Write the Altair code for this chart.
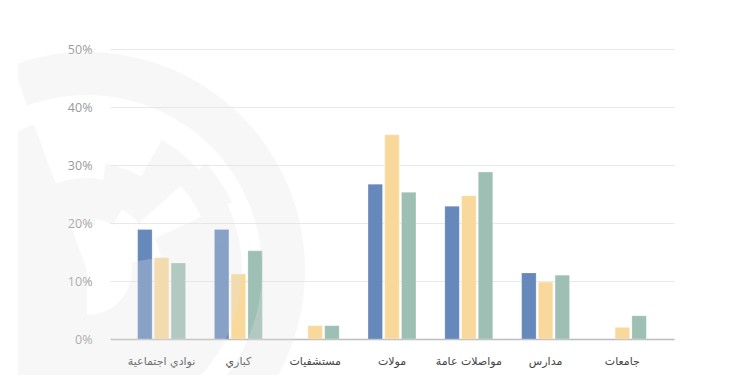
import altair as alt
import pandas as pd

categories = ["نوادي اجتماعية", "كباري", "مستشفيات", "مولات", "مواصلات عامة", "مدارس", "جامعات"]
series_names = ["الفئة 1", "الفئة 2", "الفئة 3"]
series_1 = [18.9, 18.9, None, 26.7, 22.9, 11.4, None]
series_2 = [14.0, 11.2, 2.3, 35.2, 24.7, 9.8, 2.0]
series_3 = [13.1, 15.2, 2.3, 25.3, 28.8, 11.0, 4.0]
colors = ["#6688bb", "#f9d99b", "#9ec0b4"]
y_ticks = [0, 10, 20, 30, 40, 50]

rows = []
for name, vals in zip(series_names, [series_1, series_2, series_3]):
    for cat, v in zip(categories, vals):
        rows.append({"category": cat, "series": name, "value": None if v is None else v / 100})
df = pd.DataFrame(rows)

PL, PT = 110, 49  # plot origin in page pixels

bars = alt.Chart(df).mark_bar(stroke="#ffffff", strokeWidth=0.4, strokeOpacity=0.6).encode(
    x=alt.X("category:N", sort=categories,
            scale=alt.Scale(paddingInner=0.376, paddingOuter=0.36),
            axis=alt.Axis(title=None, labelAngle=0, ticks=False, domain=True,
                          domainColor="#bdbdbd", domainWidth=1.5,
                          labelColor="#444444", labelFontSize=11, labelPadding=16,
                          labelFont="DejaVu Sans")),
    xOffset=alt.XOffset("series:N", sort=series_names,
                        scale=alt.Scale(paddingInner=0.135, paddingOuter=0)),
    y=alt.Y("value:Q", scale=alt.Scale(domain=[0, 0.5], nice=False),
            axis=alt.Axis(title=None, values=[t / 100 for t in y_ticks], format=".0%",
                          grid=True, gridColor="#e8e8e8", gridWidth=1,
                          domain=False, ticks=False, labelPadding=18,
                          labelColor="#9a9a9a", labelFontSize=12.5, labelFont="Open Sans")),
    color=alt.Color("series:N", sort=series_names,
                    scale=alt.Scale(domain=series_names, range=colors), legend=None),
)

# faint background logo (decoration, not data)
one = alt.Data(values=[{"k": 1}])
cx, cy = 87 - PL, 270 - PT
DEG = 3.14159265 / 180
sectors = [
    (340, 540, 175, 218),
    (180, 340, 0, 155),
    (340, 370, 45, 92),
    (370, 390, 52, 108),
    (390, 408, 70, 150),
    (408, 425, 126, 160),
    (425, 440, 75, 155),
    (440, 540, 45, 155),
]

def sector(t1, t2, r1, r2):
    return alt.Chart(one).mark_arc(
        fill="#e4e4e4", fillOpacity=0.28, strokeWidth=0,
        theta=t1 * DEG, theta2=t2 * DEG, radius=r2, radius2=r1,
    ).encode(x=alt.value(cx), y=alt.value(cy))

wm = [sector(*s) for s in sectors]

mask = alt.Chart(one).mark_rect(color="#ffffff").encode(
    x=alt.value(-PL), x2=alt.value(18 - PL),
    y=alt.value(-PT), y2=alt.value(375 - PT),
)

chart = alt.layer(bars, *wm, mask).properties(
    width=564, height=290,
    padding={"left": PL, "top": PT, "right": 76, "bottom": 36},
    autosize="none",
    background="#ffffff",
).configure_view(stroke=None)

chart.save("out.html", embed_options={"renderer": "svg", "actions": False})
